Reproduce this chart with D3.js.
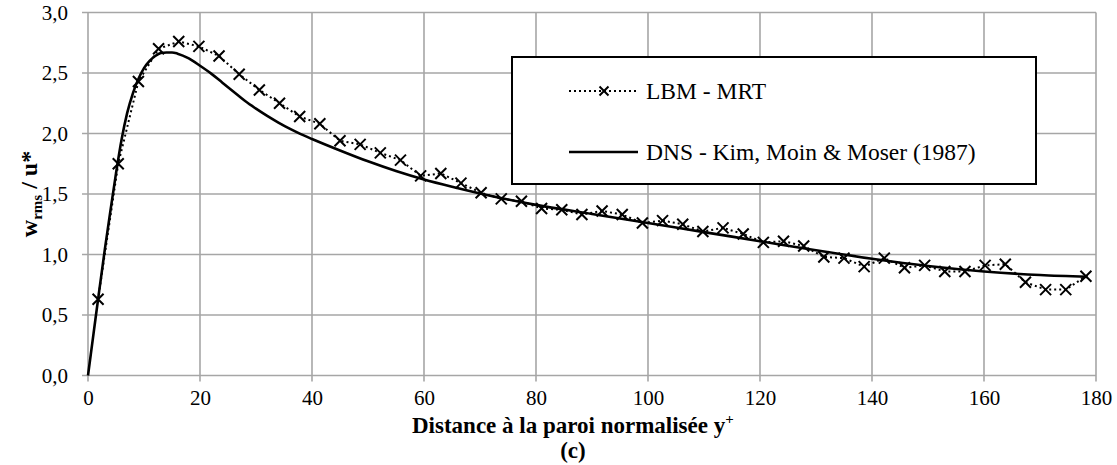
<!DOCTYPE html>
<html>
<head>
<meta charset="utf-8">
<script src="https://cdn.jsdelivr.net/npm/d3@7"></script>
<style>
  html, body { margin: 0; padding: 0; background: #fff; }
  svg { display: block; }
  text { font-family: "Liberation Serif", "Times New Roman", serif; fill: #000; }
</style>
</head>
<body>
<svg id="chart" width="1117" height="465"></svg>
<script>
// ---- data ----
const lbmX = [1.8, 5.4, 9.0, 12.6, 16.2, 19.8, 23.4, 27.0, 30.6, 34.2,
              37.8, 41.4, 45.0, 48.6, 52.2, 55.8, 59.4, 63.0, 66.6, 70.2,
              73.8, 77.4, 81.0, 84.6, 88.2, 91.8, 95.4, 99.0, 102.6, 106.2,
              109.8, 113.4, 117.0, 120.6, 124.2, 127.8, 131.4, 135.0, 138.6, 142.2,
              145.8, 149.4, 153.0, 156.6, 160.2, 163.8, 167.4, 171.0, 174.6, 178.2];
const lbmY = [0.63, 1.75, 2.43, 2.70, 2.76, 2.72, 2.64, 2.49, 2.36, 2.25,
              2.14, 2.08, 1.94, 1.91, 1.84, 1.78, 1.65, 1.67, 1.59, 1.51,
              1.46, 1.44, 1.38, 1.37, 1.33, 1.36, 1.33, 1.26, 1.28, 1.25,
              1.19, 1.22, 1.17, 1.10, 1.11, 1.07, 0.98, 0.97, 0.90, 0.97,
              0.89, 0.91, 0.86, 0.86, 0.91, 0.92, 0.77, 0.71, 0.71, 0.82];
const dnsX = [0, 1, 2, 3, 4, 5, 6, 7, 8, 9, 10, 11, 12, 13, 14, 15, 16, 18, 20, 22,
              24, 26, 28, 30, 32, 34, 36, 38, 40, 45, 50, 55, 60, 65, 70, 75, 80, 90, 100,
              110, 120, 130, 140, 150, 160, 170, 178.5];
const dnsY = [0, 0.35, 0.70, 1.04, 1.36, 1.67, 1.95, 2.17, 2.33, 2.45, 2.54, 2.60, 2.64, 2.665, 2.67, 2.67, 2.66, 2.62, 2.56, 2.495,
              2.42, 2.345, 2.27, 2.205, 2.145, 2.09, 2.04, 1.995, 1.955, 1.86, 1.77, 1.69, 1.62, 1.56, 1.505, 1.455, 1.41, 1.335, 1.26,
              1.185, 1.11, 1.035, 0.965, 0.905, 0.86, 0.83, 0.815];
const xTicks = [0, 20, 40, 60, 80, 100, 120, 140, 160, 180];
const yTicks = [0, 0.5, 1.0, 1.5, 2.0, 2.5, 3.0];
const seriesNames = ["LBM - MRT", "DNS - Kim, Moin & Moser (1987)"];
const xTitle = "Distance à la paroi normalisée y";
const subTitle = "(c)";

// ---- layout ----
const plot = { left: 88, right: 1096, top: 12.5, bottom: 375.5 };
const svg = d3.select("#chart");

const x = d3.scaleLinear().domain([0, 180]).range([plot.left, plot.right]);
const y = d3.scaleLinear().domain([0, 3]).range([plot.bottom, plot.top]);
const gridColor = "#a6a6a6";
const fmt = v => d3.format(".1f")(v).replace(".", ",");

// gridlines (with outside tick stubs)
const g = svg.append("g");
g.selectAll("line.h").data(yTicks).join("line")
  .attr("x1", plot.left - 6).attr("x2", plot.right)
  .attr("y1", d => y(d)).attr("y2", d => y(d))
  .attr("stroke", gridColor).attr("stroke-width", 1.6);
g.selectAll("line.v").data(xTicks).join("line")
  .attr("x1", d => x(d)).attr("x2", d => x(d))
  .attr("y1", plot.top).attr("y2", plot.bottom + 6)
  .attr("stroke", gridColor).attr("stroke-width", 1.6);

// tick labels via d3 axes
const xAxis = svg.append("g").attr("transform", `translate(0,${plot.bottom})`)
  .call(d3.axisBottom(x).tickValues(xTicks).tickSize(0).tickPadding(29).tickFormat(d => d));
xAxis.select(".domain").remove();
xAxis.selectAll("text").attr("font-size", 21).attr("font-family", "Liberation Serif").attr("fill", "#000").attr("dy", 0);

const yAxis = svg.append("g").attr("transform", `translate(${plot.left},0)`)
  .call(d3.axisLeft(y).tickValues(yTicks).tickSize(0).tickPadding(20).tickFormat(fmt));
yAxis.select(".domain").remove();
yAxis.selectAll("text").attr("font-size", 21).attr("font-family", "Liberation Serif").attr("fill", "#000");

// DNS solid line
const dnsData = dnsX.map((d, i) => [d, dnsY[i]]);
svg.append("path").datum(dnsData)
  .attr("fill", "none").attr("stroke", "#000").attr("stroke-width", 2.6)
  .attr("d", d3.line().x(d => x(d[0])).y(d => y(d[1])).curve(d3.curveMonotoneX));

// LBM dotted line with X markers
const lbmData = lbmX.map((d, i) => [d, lbmY[i]]);
svg.append("path").datum(lbmData)
  .attr("fill", "none").attr("stroke", "#000").attr("stroke-width", 2)
  .attr("stroke-dasharray", "2,3")
  .attr("d", d3.line().x(d => x(d[0])).y(d => y(d[1])));

const xMark = (cx, cy, r) => `M${cx - r},${cy - r}L${cx + r},${cy + r}M${cx - r},${cy + r}L${cx + r},${cy - r}`;
svg.append("g").selectAll("path").data(lbmData).join("path")
  .attr("d", d => xMark(x(d[0]), y(d[1]), 5.5))
  .attr("stroke", "#000").attr("stroke-width", 2).attr("fill", "none");

// legend
const lg = svg.append("g");
lg.append("rect").attr("x", 512).attr("y", 57).attr("width", 524).attr("height", 127)
  .attr("fill", "#fff").attr("stroke", "#000").attr("stroke-width", 2);
const rows = [91, 152];
lg.append("line").attr("x1", 569).attr("x2", 638).attr("y1", rows[0]).attr("y2", rows[0])
  .attr("stroke", "#000").attr("stroke-width", 2).attr("stroke-dasharray", "2,3");
lg.append("path").attr("d", xMark(604, rows[0], 4.5)).attr("stroke", "#000").attr("stroke-width", 2);
lg.append("line").attr("x1", 569).attr("x2", 638).attr("y1", rows[1]).attr("y2", rows[1])
  .attr("stroke", "#000").attr("stroke-width", 2.6);
seriesNames.forEach((s, i) => {
  lg.append("text").attr("x", 646).attr("y", rows[i]).attr("dy", "0.35em")
    .attr("font-size", 23.5).text(s);
});

// x title (two lines, second centred under the first)
const xt = svg.append("text").attr("x", 412).attr("y", 433).attr("text-anchor", "start")
  .attr("font-size", 23).attr("font-weight", "bold");
xt.append("tspan").text(xTitle);
xt.append("tspan").attr("dy", -9).attr("font-size", 15).text("+");
const tw = xt.node().getBBox();
svg.append("text").attr("x", tw.x + tw.width / 2).attr("y", 458).attr("text-anchor", "middle")
  .attr("font-size", 23).attr("font-weight", "bold").text(subTitle);

// y title
const yt = svg.append("text").attr("transform", `translate(37,${(plot.top + plot.bottom) / 2}) rotate(-90)`)
  .attr("text-anchor", "middle").attr("font-size", 24).attr("font-weight", "bold");
yt.append("tspan").text("w");
yt.append("tspan").attr("dy", 5).attr("font-size", 15).text("rms");
yt.append("tspan").attr("dy", -5).text(" / u*");
</script>
</body>
</html>
